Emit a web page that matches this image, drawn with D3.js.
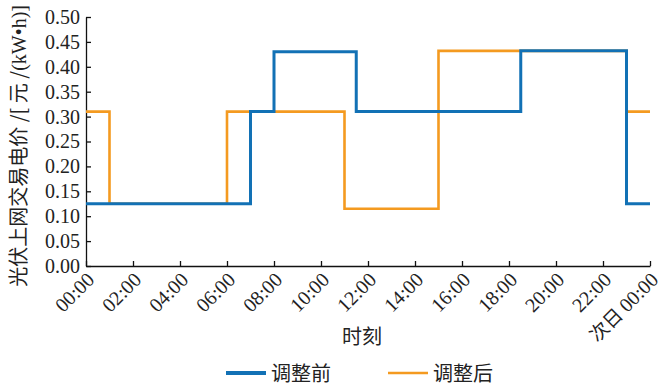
<!DOCTYPE html>
<html>
<head>
<meta charset="utf-8">
<script src="https://cdn.jsdelivr.net/npm/d3@7"></script>
<style>
  body { margin: 0; background: #fff; }
  .tick text { font-family: "Liberation Serif", serif; font-size: 20px; fill: #222; }
  .cjk { font-family: "Noto Sans CJK SC", sans-serif; fill: #222; }
</style>
</head>
<body>
<svg class="chart" width="663" height="387"></svg>
<script>
// x tick labels every two hours
const tickHours = [0, 2, 4, 6, 8, 10, 12, 14, 16, 18, 20, 22, 24];
const tickLabels = ["00:00", "02:00", "04:00", "06:00", "08:00", "10:00", "12:00",
                    "14:00", "16:00", "18:00", "20:00", "22:00", "次日 00:00"];
const yTicks = [0, 0.05, 0.1, 0.15, 0.2, 0.25, 0.3, 0.35, 0.4, 0.45, 0.5];

// step series: price holds from each time until the next
const beforeHours = [0, 7, 8, 11.5, 18.5, 23, 24];
const beforeValues = [0.125, 0.31, 0.43, 0.31, 0.432, 0.125, 0.125];
const afterHours = [0, 1, 6, 11, 15, 23, 24];
const afterValues = [0.31, 0.125, 0.31, 0.115, 0.432, 0.31, 0.31];

const seriesNames = ["调整前", "调整后"];
const colors = ["#1271b5", "#f49a20"];

const svg = d3.select(".chart");
const margin = { left: 86, right: 13, top: 17, bottom: 121 };
const width = 663 - margin.left - margin.right;
const height = 387 - margin.top - margin.bottom;

const g = svg.append("g").attr("transform", `translate(${margin.left},${margin.top})`);

const x = d3.scaleLinear().domain([0, 24]).range([0, width]);
const y = d3.scaleLinear().domain([0, 0.5]).range([height, 0]);

// y axis, ticks point inward
g.append("g")
    .call(d3.axisLeft(y).tickValues(yTicks).tickFormat(d3.format(".2f"))
        .tickSizeInner(-5).tickSizeOuter(0).tickPadding(6));

// x axis
const xAxis = g.append("g")
    .attr("transform", `translate(0,${height})`)
    .call(d3.axisBottom(x).tickValues(tickHours).tickFormat(() => "")
        .tickSizeInner(-5).tickSizeOuter(0));

svg.selectAll(".domain, .tick line").attr("stroke", "#111").attr("stroke-width", 1.3);

// rotated x labels
xAxis.selectAll(".tick").each(function (d, i) {
    const t = d3.select(this).append("text")
        .attr("text-anchor", "end")
        .attr("fill", "#222")
        .attr("transform", "translate(9,15) rotate(-45)");
    const lab = tickLabels[i];
    if (lab.startsWith("次日")) {
        t.append("tspan").attr("class", "cjk").attr("font-size", 19).text("次日 ");
        t.append("tspan").text(lab.slice(3));
    } else {
        t.text(lab);
    }
});

// step lines
const line = d3.line()
    .x(d => x(d[0]))
    .y(d => y(d[1]))
    .curve(d3.curveStepAfter);

const afterData = d3.zip(afterHours, afterValues);
const beforeData = d3.zip(beforeHours, beforeValues);

g.append("path")
    .datum(afterData)
    .attr("fill", "none")
    .attr("stroke", colors[1])
    .attr("stroke-width", 2.6)
    .attr("d", line);

g.append("path")
    .datum(beforeData)
    .attr("fill", "none")
    .attr("stroke", colors[0])
    .attr("stroke-width", 3)
    .attr("d", line);

// axis titles
svg.append("text")
    .attr("class", "cjk")
    .attr("x", 362)
    .attr("y", 344)
    .attr("text-anchor", "middle")
    .attr("font-size", 20)
    .text("时刻");

const yTitle = svg.append("text")
    .attr("transform", "translate(26,5) rotate(-90)")
    .attr("text-anchor", "end")
    .attr("font-size", 20)
    .attr("fill", "#222");
yTitle.append("tspan").attr("class", "cjk").text("光伏上网交易电价 /[ 元 /");
yTitle.append("tspan").attr("font-family", "Liberation Serif, serif").text("(kW•h)]");

// legend
const legendX = [226, 388];
const legendW = [4, 2.5];
seriesNames.forEach((name, i) => {
    svg.append("line")
        .attr("x1", legendX[i]).attr("x2", legendX[i] + 40)
        .attr("y1", 373).attr("y2", 373)
        .attr("stroke", colors[i])
        .attr("stroke-width", legendW[i]);
    svg.append("text")
        .attr("class", "cjk")
        .attr("x", legendX[i] + 45)
        .attr("y", 381)
        .attr("font-size", 20)
        .text(name);
});
</script>
</body>
</html>
